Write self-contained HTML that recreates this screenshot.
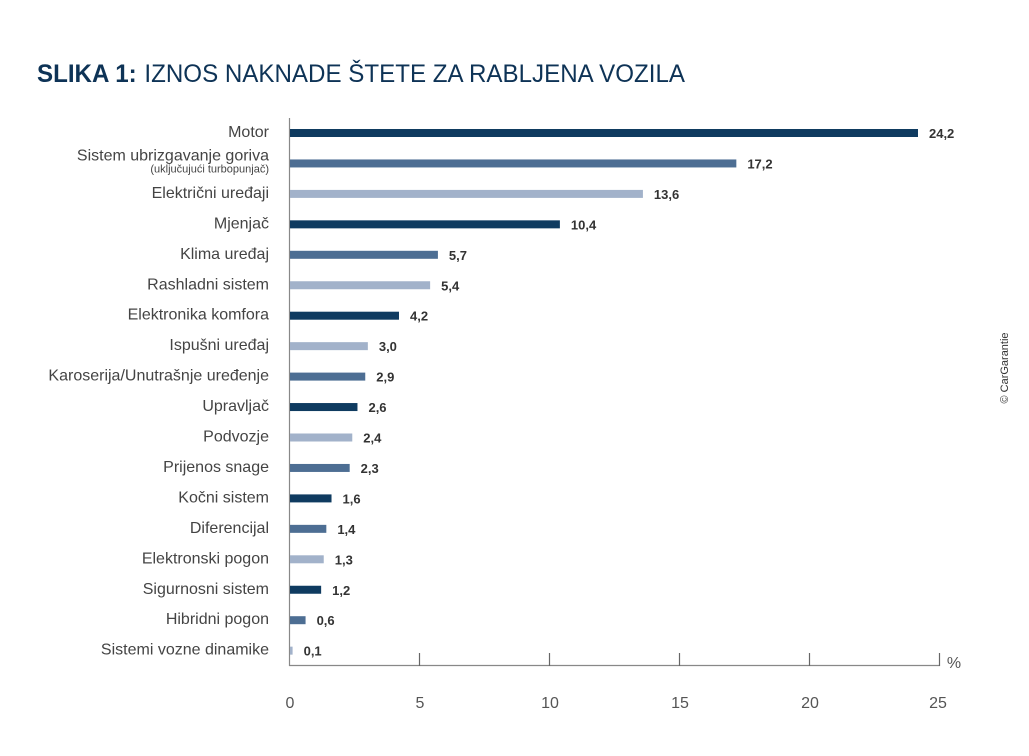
<!DOCTYPE html>
<html><head><meta charset="utf-8"><style>
body{margin:0;background:#fff;}
svg{display:block;font-family:"Liberation Sans",sans-serif;}
</style></head><body>
<svg width="1029" height="756" viewBox="0 0 1029 756">
<text x="37" y="82" font-size="25" fill="#0e3356" textLength="648" lengthAdjust="spacingAndGlyphs"><tspan font-weight="bold">SLIKA 1:</tspan><tspan dx="8">IZNOS NAKNADE ŠTETE ZA RABLJENA VOZILA</tspan></text>
<line x1="289.5" y1="118" x2="289.5" y2="666" stroke="#888" stroke-width="1.2"/>
<line x1="289" y1="665.5" x2="940" y2="665.5" stroke="#888" stroke-width="1.2"/>
<g stroke="#666" stroke-width="1.2">
<line x1="419.5" y1="653" x2="419.5" y2="666"/><line x1="549.5" y1="653" x2="549.5" y2="666"/>
<line x1="679.5" y1="653" x2="679.5" y2="666"/><line x1="809.5" y1="653" x2="809.5" y2="666"/>
<line x1="939.5" y1="653" x2="939.5" y2="666"/></g>
<g font-size="16" fill="#555" text-anchor="middle">
<text x="290" y="708">0</text><text x="420" y="708">5</text><text x="550" y="708">10</text><text x="680" y="708">15</text><text x="810" y="708">20</text><text x="938" y="708">25</text>
<text x="954" y="668">%</text></g>
<text transform="translate(1008,368) rotate(-90)" font-size="11" fill="#333" text-anchor="middle">© CarGarantie</text>
<g id="bars"></g>
</svg>
<script>
var d=[["Motor",24.2,0],["Sistem ubrizgavanje goriva",17.2,1],["Električni uređaji",13.6,2],["Mjenjač",10.4,0],["Klima uređaj",5.7,1],["Rashladni sistem",5.4,2],["Elektronika komfora",4.2,0],["Ispušni uređaj",3.0,2],["Karoserija/Unutrašnje uređenje",2.9,1],["Upravljač",2.6,0],["Podvozje",2.4,2],["Prijenos snage",2.3,1],["Kočni sistem",1.6,0],["Diferencijal",1.4,1],["Elektronski pogon",1.3,2],["Sigurnosni sistem",1.2,0],["Hibridni pogon",0.6,1],["Sistemi vozne dinamike",0.1,2]];
var c=["#0f3b60","#4d6e93","#a2b2ca"],s="";
d.forEach(function(r,i){var y=133+i*30.45,w=r[1]*25.95;
s+='<rect x="290" y="'+(y-4)+'" width="'+w+'" height="8" fill="'+c[r[2]]+'"/>';
s+='<text x="'+(290+w+11)+'" y="'+(y+5)+'" font-size="13" font-weight="bold" fill="#333">'+r[1].toFixed(1).replace(".",",")+'</text>';
var ty=i==1?y-3:y+4;
s+='<text x="269" y="'+ty+'" font-size="16" fill="#444" text-anchor="end">'+r[0]+'</text>';
if(i==1)s+='<text x="269" y="'+(y+9)+'" font-size="11" fill="#444" text-anchor="end">(uključujući turbopunjač)</text>';
});
document.getElementById("bars").innerHTML=s;
</script>
</body></html>
